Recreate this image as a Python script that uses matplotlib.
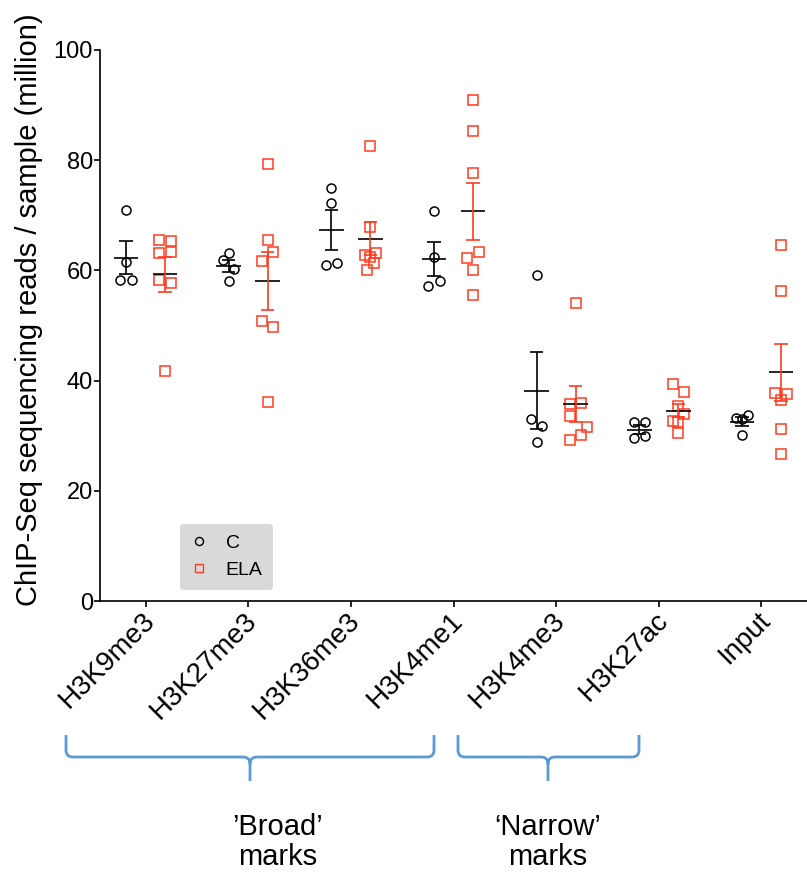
import numpy as np
import matplotlib
matplotlib.use("Agg")
import matplotlib.pyplot as plt
from matplotlib.path import Path
from matplotlib.patches import PathPatch
from matplotlib.lines import Line2D
import matplotlib.transforms as mtransforms

plt.rcParams["font.family"] = ["Liberation Sans", "DejaVu Sans"]

marks = ["H3K9me3", "H3K27me3", "H3K36me3", "H3K4me1", "H3K4me3", "H3K27ac", "Input"]

# reads per sample (million), control animals
reads_c = [
    [70.9, 61.6, 58.3, 58.3],
    [63.1, 61.8, 60.3, 58.1],
    [75.0, 72.2, 60.9, 61.3],
    [70.8, 62.5, 57.1, 58.0],
    [59.1, 33.0, 31.7, 28.9],
    [32.4, 32.4, 29.6, 30.0],
    [33.3, 33.8, 33.0, 30.1],
]
# reads per sample (million), ELA animals
reads_ela = [
    [65.6, 65.4, 63.1, 63.3, 58.3, 57.8, 41.7],
    [79.4, 65.6, 63.3, 61.7, 50.9, 49.8, 36.2],
    [82.6, 67.9, 62.8, 63.1, 62.5, 61.3, 60.1],
    [90.9, 85.3, 77.6, 63.4, 62.3, 60.0, 55.6],
    [54.0, 35.8, 36.0, 33.6, 31.5, 30.1, 29.2],
    [39.4, 37.9, 35.3, 33.9, 32.7, 32.4, 30.4],
    [64.6, 56.2, 37.8, 37.6, 36.4, 31.2, 26.7],
]

# horizontal slots so overlapping points sit side by side
slots_c = [
    [0, 0, -1, 1], [0, -1, 1, 0], [0, 0, -1, 1], [0, 0, -1, 1],
    [0, -1, 1, 0], [-1, 1, -1, 1], [-1, 1, 0, 0],
]
slots_ela = [
    [-1, 1, -1, 1, -1, 1, 0], [0, 0, 1, -1, -1, 1, 0], [0, 0, -1, 1, 0, 0.6, -0.6],
    [0, 0, 0, 1, -1, 0, 0], [0, -1, 1, -1, 2, 1, -1], [-1, 1, 0, 1, -1, 0, 0],
    [0, 0, -1, 1, 0, 0, 0],
]

RED = "#FF3B1F"
BLUE = "#5B9BD5"
W, H = 807, 874

fig = plt.figure(figsize=(W / 100, H / 100), dpi=100)
ax = fig.add_axes([100 / W, (H - 601) / H, 707 / W, 551 / H])

slot_w = 0.055
shift = 0.19


def draw_group(x0, vals, slots, marker, color, errcolor):
    vals = np.asarray(vals)
    xs = x0 + np.asarray(slots) * slot_w
    ax.plot(xs, vals, linestyle="none", marker=marker, ms=6.5, mfc="none",
            mec=color, mew=1.1, zorder=3)
    m = vals.mean()
    sem = vals.std(ddof=1) / np.sqrt(len(vals))
    ax.hlines(m, x0 - 0.12, x0 + 0.12, color="black", lw=1.2, zorder=4)
    ax.vlines(x0, m - sem, m + sem, color=errcolor, lw=1.2, zorder=4)
    ax.hlines([m - sem, m + sem], x0 - 0.065, x0 + 0.065, color=errcolor, lw=1.2, zorder=4)


for i in range(len(marks)):
    draw_group(i - shift, reads_c[i], slots_c[i], "o", "black", "black")
    draw_group(i + shift, reads_ela[i], slots_ela[i], "s", RED, RED)

ax.set_xlim(-0.444, 6.444)
ax.set_ylim(0, 100)
ax.set_yticks([0, 20, 40, 60, 80, 100])
ax.set_xticks(range(len(marks)))
ax.set_xticklabels(marks, rotation=45, ha="right", rotation_mode="anchor", fontsize=20)
ax.tick_params(axis="y", labelsize=17, length=4.5, width=1.2, pad=0.5)
ax.tick_params(axis="x", length=4.5, width=1.2, pad=0)
# pull the slanted labels a little left, closer to their ticks
nudge = mtransforms.ScaledTranslation(-4 / 100, 0, fig.dpi_scale_trans)
for lbl in ax.get_xticklabels():
    lbl.set_transform(lbl.get_transform() + nudge)
for s in ["top", "right"]:
    ax.spines[s].set_visible(False)
for s in ["left", "bottom"]:
    ax.spines[s].set_linewidth(1.2)
ax.set_ylabel("ChIP-Seq sequencing reads / sample (million)", fontsize=21)
ax.yaxis.set_label_coords(-0.08, 0.528)

handles = [
    Line2D([], [], linestyle="none", marker="o", ms=5.8, mfc="none", mec="black", mew=1.0),
    Line2D([], [], linestyle="none", marker="s", ms=5.8, mfc="none", mec=RED, mew=1.0),
]
leg = ax.legend(handles, ["C", "ELA"], loc="lower left", bbox_to_anchor=(0.113, 0.02),
                borderaxespad=0, fontsize=14, frameon=True, fancybox=True,
                facecolor="#D9D9D9", edgecolor="none", framealpha=1,
                handletextpad=0.9, borderpad=0.55, labelspacing=0.5, handlelength=0.9)

# braces under the tick labels, drawn in pixel units from the top-left corner
px = mtransforms.Affine2D().scale(1 / W, -1 / H).translate(0, 1) + fig.transFigure


def brace(xa, xb, xm, ytop=735, ymid=757, ytip=781, r=7):
    verts = [
        (xa, ytop), (xa, ymid - r), (xa, ymid), (xa + r, ymid), (xm - r, ymid),
        (xm, ymid), (xm, ymid + r), (xm, ytip),
        (xm, ymid + r), (xm, ymid), (xm + r, ymid), (xb - r, ymid),
        (xb, ymid), (xb, ymid - r), (xb, ytop),
    ]
    codes = [
        Path.MOVETO, Path.LINETO, Path.CURVE3, Path.CURVE3, Path.LINETO,
        Path.CURVE3, Path.CURVE3, Path.LINETO,
        Path.MOVETO, Path.CURVE3, Path.CURVE3, Path.LINETO,
        Path.CURVE3, Path.CURVE3, Path.LINETO,
    ]
    fig.add_artist(PathPatch(Path(verts, codes), fill=False, edgecolor=BLUE,
                             lw=2.0, transform=px, capstyle="butt"))


brace(66, 434, 250)
brace(458, 639, 548)

fig.text(278 / W, 1 - 842 / H, "\u2019Broad\u2019\nmarks", ha="center", va="center",
         fontsize=21, linespacing=1.05)
fig.text(548 / W, 1 - 842 / H, "\u2018Narrow\u2019\nmarks", ha="center", va="center",
         fontsize=21, linespacing=1.05)

fig.savefig("out.png", dpi=100)
